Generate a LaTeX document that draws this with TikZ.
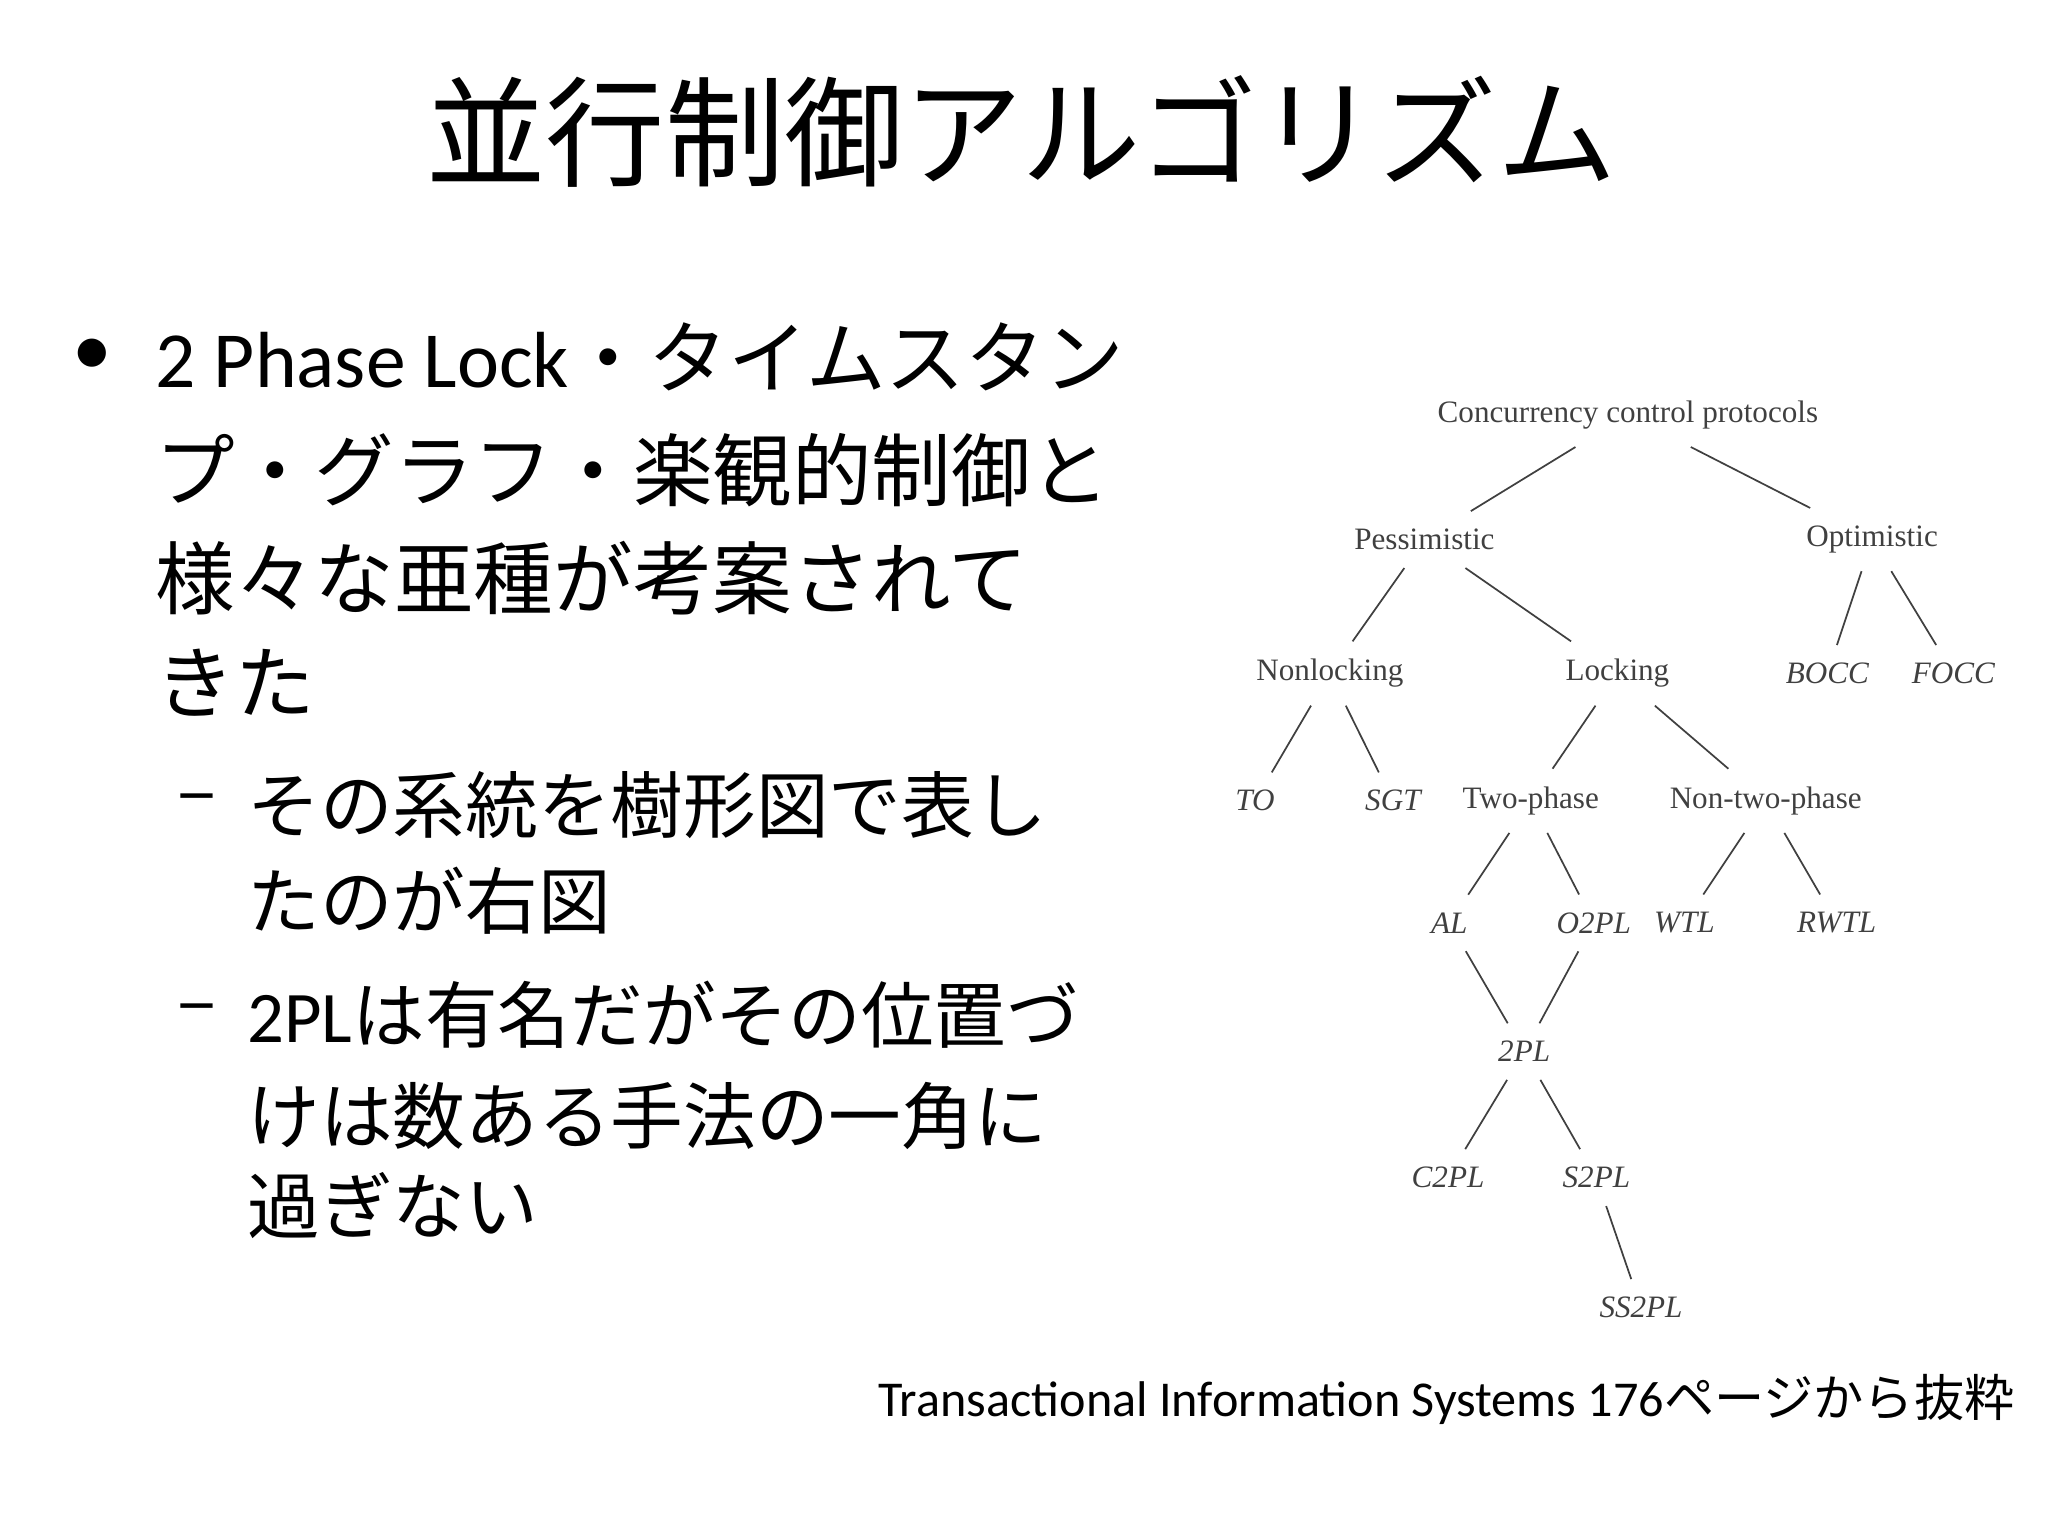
\documentclass[tikz,border=0pt]{standalone}
\usepackage{fontspec}
\setmainfont{Carlito}
\newfontfamily\cjk{Noto Sans CJK JP}
\newfontfamily\lat{Carlito}
\newfontfamily\trf{Liberation Serif}
\begin{document}
\begin{tikzpicture}[x=0.013333cm,y=-0.013333cm,
  tn/.style={font=\trf\fontsize{9}{11}\selectfont,text=black!75,inner sep=5pt},
  ti/.style={tn,font=\trf\itshape\fontsize{9}{11}\selectfont},
  ed/.style={draw=black!75,line width=0.5pt},
  bl/.style={anchor=west,inner sep=0pt,font=\fontsize{23}{27}\selectfont},
  sl/.style={anchor=west,inner sep=0pt,font=\fontsize{21}{25}\selectfont}]
\useasboundingbox (0,0) rectangle (1560,1170);
\node (title) at (778,100) {\cjk\fontsize{34.5}{40}\selectfont 並行制御アルゴリズム};
\node[bl] (b0) at (55,272) {•};
\node[bl] (l1) at (118,272) {2 Phase Lock{\cjk ・タイムスタン}};
\node[bl] (l2) at (118,358) {\cjk プ・グラフ・楽観的制御と};
\node[bl] (l3) at (118,440) {\cjk 様々な亜種が考案されて};
\node[bl] (l4) at (118,520) {\cjk きた};
\node[sl] (d1) at (135,613) {\cjk –};
\node[sl] (s1) at (188,613) {\cjk その系統を樹形図で表し};
\node[sl] (s2) at (188,686) {\cjk たのが右図};
\node[sl] (d2) at (135,773) {\cjk –};
\node[sl] (s3) at (188,773) {2PL{\cjk は有名だがその位置づ}};
\node[sl] (s4) at (188,850) {\cjk けは数ある手法の一角に};
\node[sl] (s5) at (188,918) {\cjk 過ぎない};
\node[anchor=east,inner sep=0pt,font=\fontsize{14.5}{17}\selectfont] (foot) at (1535,1066) {Transactional Information Systems 176{\cjk ページから抜粋}};
\node[tn] (root) at (1240,316) {Concurrency control protocols};
\node[tn] (pes) at (1085,411) {Pessimistic};
\node[tn] (opt) at (1426,411) {Optimistic};
\node[tn] (nl) at (1013,513) {Nonlocking};
\node[tn] (lk) at (1232,513) {Locking};
\node[ti] (bocc) at (1392,513) {BOCC};
\node[ti] (focc) at (1488,513) {FOCC};
\node[ti] (to) at (956,610) {TO};
\node[ti] (sgt) at (1061,610) {SGT};
\node[tn] (tp) at (1166,610) {Two-phase};
\node[tn] (ntp) at (1345,610) {Non-two-phase};
\node[ti] (al) at (1104,703) {AL};
\node[ti] (o2pl) at (1214,703) {O2PL};
\node[ti] (wtl) at (1283,703) {WTL};
\node[ti] (rwtl) at (1399,703) {RWTL};
\node[ti] (tpl) at (1161,801) {2PL};
\node[ti] (c2pl) at (1103,897) {C2PL};
\node[ti] (s2pl) at (1216,897) {S2PL};
\node[ti] (ss2pl) at (1250,996) {SS2PL};
\draw[ed] (root)--(pes); \draw[ed] (root)--(opt);
\draw[ed] (pes)--(nl); \draw[ed] (pes)--(lk);
\draw[ed] (opt)--(bocc); \draw[ed] (opt)--(focc);
\draw[ed] (nl)--(to); \draw[ed] (nl)--(sgt);
\draw[ed] (lk)--(tp); \draw[ed] (lk)--(ntp);
\draw[ed] (tp)--(al); \draw[ed] (tp)--(o2pl);
\draw[ed] (ntp)--(wtl); \draw[ed] (ntp)--(rwtl);
\draw[ed] (al)--(tpl); \draw[ed] (o2pl)--(tpl);
\draw[ed] (tpl)--(c2pl); \draw[ed] (tpl)--(s2pl);
\draw[ed] (s2pl)--(ss2pl);
\end{tikzpicture}
\end{document}
